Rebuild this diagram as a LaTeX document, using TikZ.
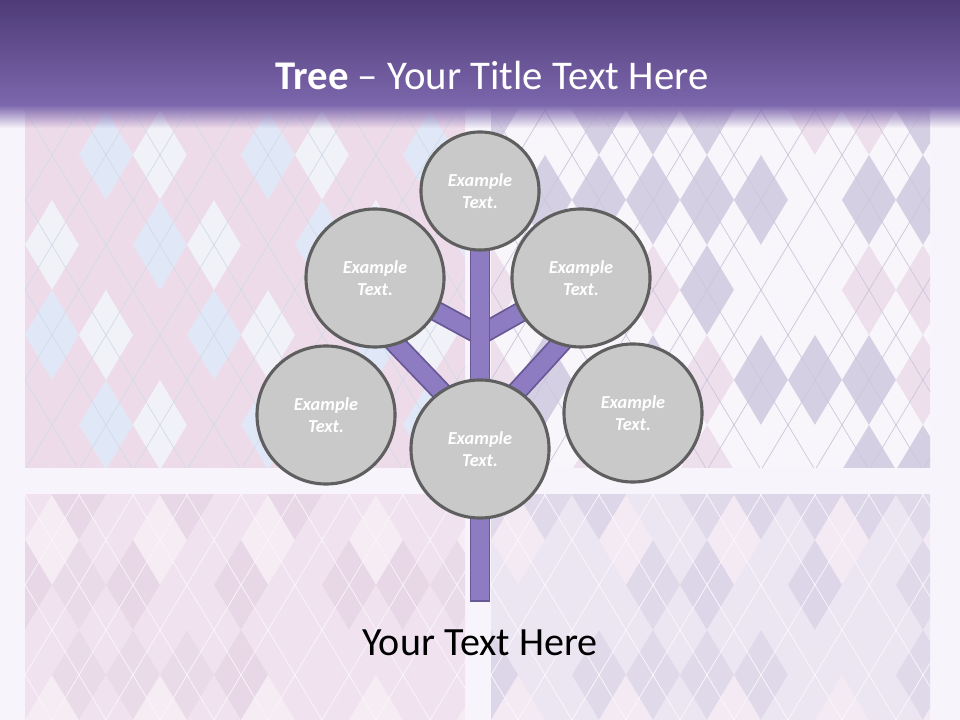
\documentclass[tikz,border=0pt]{standalone}
\usepackage{fontspec}
\setmainfont{Carlito}
\usetikzlibrary{calc, positioning, fadings}
\definecolor{pagebg}{RGB}{247,245,251}
\definecolor{titletop}{RGB}{78,59,119}
\definecolor{titlebot}{RGB}{125,103,173}
\definecolor{barfill}{RGB}{142,124,195}
\definecolor{baredge}{RGB}{104,88,150}
\definecolor{leafgray}{RGB}{201,201,201}
\definecolor{leafedge}{RGB}{95,95,95}
% argyle colours, four per panel
\definecolor{tl1}{RGB}{238,219,233}
\definecolor{tl2}{RGB}{224,231,246}
\definecolor{tl3}{RGB}{241,242,247}
\definecolor{tl4}{RGB}{238,219,233}
\definecolor{tlL}{RGB}{210,219,232}
\definecolor{tr1}{RGB}{213,207,227}
\definecolor{tr2}{RGB}{238,223,236}
\definecolor{tr3}{RGB}{213,207,227}
\definecolor{tr4}{RGB}{248,246,251}
\definecolor{trL}{RGB}{204,199,219}
\definecolor{bl1}{RGB}{231,215,231}
\definecolor{bl2}{RGB}{234,219,233}
\definecolor{bl3}{RGB}{240,227,239}
\definecolor{bl4}{RGB}{245,236,244}
\definecolor{blL}{RGB}{250,246,251}
\definecolor{br1}{RGB}{220,214,232}
\definecolor{br2}{RGB}{223,217,234}
\definecolor{br3}{RGB}{236,230,242}
\definecolor{br4}{RGB}{243,234,243}
\definecolor{brL}{RGB}{250,248,252}
\pgfdeclarelayer{panels}
\pgfdeclarelayer{limbs}
\pgfsetlayers{panels,limbs,main}

\begin{document}
\begin{tikzpicture}[x=0.025cm, y=-0.025cm,
    leaf/.style={circle, draw=leafedge, line width=2.2pt, fill=leafgray,
      minimum size=3.45cm, inner sep=0pt, text=white, align=center,
      font=\fontsize{13}{16}\selectfont\bfseries\itshape},
    limbedge/.style={draw=baredge, line width=14.8pt},
    limbfill/.style={draw=barfill, line width=12.2pt},
    argline/.style={line width=0.5pt}]
    \useasboundingbox (0,0) rectangle (960,720);
    \begin{pgfonlayer}{panels}
        \fill[pagebg] (0,0) rectangle (960,720);
        \pgfmathsetseed{11}
        \foreach \xa/\ya/\xb/\yb/\p/\ma/\lo/\hi in {25/110/465/468/tl/1/2/4, 491/110/930/468/tr/4/4/4,
                25/495/465/720/bl/3/3/4, 491/495/930/720/br/3/3/4} {
            \begin{scope}
                \clip (\xa,\ya) rectangle (\xb,\yb);
                \foreach \i in {-1,...,9} {
                    \foreach \j in {-1,...,4} {
                        \pgfmathrandominteger{\k}{1}{\ma}
                        \fill[fill=\p\k] (\xa+\i*54,\ya+\j*90) ++(-27,0) -- ++(27,-45) -- ++(27,45) -- ++(-27,45) -- cycle;
                        \pgfmathtruncatemacro{\k}{\lo+mod(abs(\i*7+\j*11+\i*\j*3+5),\hi-\lo+1)}
                        \fill[fill=\p\k] (\xa+\i*54+27,\ya+\j*90+45) ++(-27,0) -- ++(27,-45) -- ++(27,45) -- ++(-27,45) -- cycle;
                    }
                }
                \foreach \k in {-9,...,17} {
                    \draw[argline, draw=\p L] (\xa+\k*54,\ya-90) -- ++(432,720);
                    \draw[argline, draw=\p L] (\xa+\k*54,\ya-90) -- ++(-432,720);
                }
            \end{scope}
        }
        % title bar
        \shade[top color=titletop, bottom color=titlebot] (0,0) rectangle (960,106);
        \fill[titlebot, path fading=south] (0,105) rectangle (960,128);
    \end{pgfonlayer}

    \node[text=white, font=\fontsize{29}{35}\selectfont] (title) at (492,75) {\textbf{Tree} -- Your Title Text Here};

    \node[leaf, minimum size=2.95cm] (ctop) at (480,191) {Example\\Text.};
    \node[leaf] (cul) at (375,278) {Example\\Text.};
    \node[leaf] (cur) at (581,278) {Example\\Text.};
    \node[leaf] (cll) at (326,415) {Example\\Text.};
    \node[leaf] (clr) at (633,413) {Example\\Text.};
    \node[leaf] (cmid) at (480,449) {Example\\Text.};

    \coordinate (fork1) at (480,335);
    \coordinate (fork2) at (480,432);
    \coordinate (root) at (480,600);
    \begin{pgfonlayer}{limbs}
        \foreach \s in {limbedge, limbfill} {
            \draw[\s] (fork1) -- (cul.center);
            \draw[\s] (fork1) -- (cur.center);
            \draw[\s] (fork2) -- ($(fork2)!1.15!(cul.-72)$);
            \draw[\s] (fork2) -- ($(fork2)!1.15!(cur.-108)$);
        }
        \draw[limbedge, shorten >=-1.3pt] (ctop.center) -- (root);
        \draw[limbfill] (ctop.center) -- (root);
    \end{pgfonlayer}

    \node[font=\fontsize{28.5}{34}\selectfont] (caption) at (480,643) {Your Text Here};
\end{tikzpicture}
\end{document}
